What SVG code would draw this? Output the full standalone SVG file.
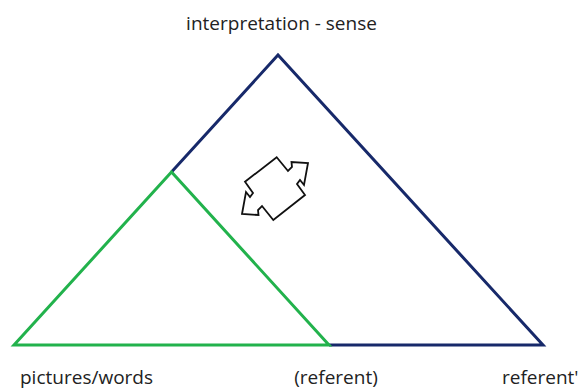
<svg xmlns="http://www.w3.org/2000/svg" width="580" height="391" viewBox="0 0 580 391">
<style>
  text { font-family: "Open Sans", "Liberation Sans", sans-serif; font-size: 19px; fill: #222; }
  .navy { fill: none; stroke: #17296A; stroke-width: 3; stroke-linejoin: miter; }
  .green { fill: none; stroke: #22B24C; stroke-width: 3; stroke-linejoin: miter; }
  .arrow { fill: #fff; stroke: #111; stroke-width: 1.8; stroke-linejoin: miter; }
</style>
<rect width="580" height="391" fill="#fff"/>
<g id="connectors">
  <polyline class="navy" points="171.5,172 278,55 543,345 329,345"/>
  <polygon class="green" points="14,345 171.5,172 329,345"/>
</g>
<g id="double-arrow">
  <polygon class="arrow" points="276.7,157.3 288,171 292,167 291.5,162 308,163 304,185 300,180 297,184 305,195 273.3,220 262,206 258,210 258.5,215 242,214 246,192 250,197 253,193 245,181.7"/>
</g>
<g id="label-top"><text x="281.5" y="30" text-anchor="middle">interpretation - sense</text></g>
<g id="label-left"><text x="20" y="384">pictures/words</text></g>
<g id="label-mid"><text x="336" y="384" text-anchor="middle">(referent)</text></g>
<g id="label-right"><text x="502" y="384">referent'</text></g>
</svg>
